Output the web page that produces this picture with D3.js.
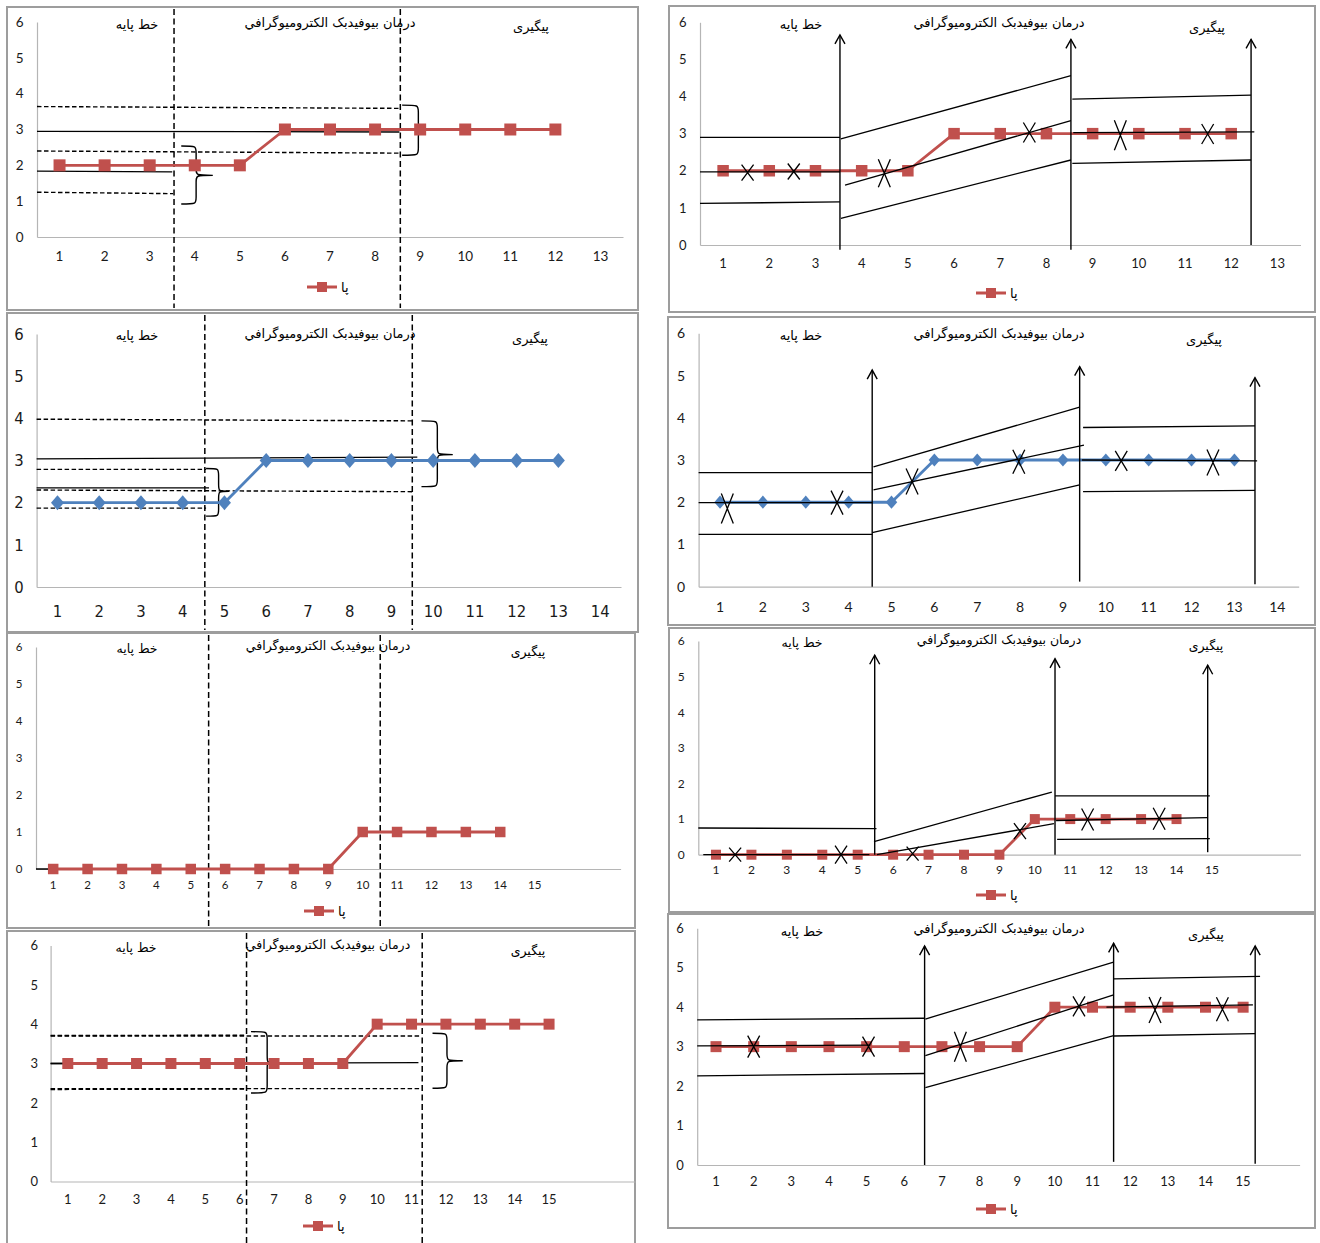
<!DOCTYPE html>
<html><head><meta charset="utf-8">
<script src="https://cdn.jsdelivr.net/npm/d3@7"></script>
<style>
body{margin:0;background:#fff;}
.ar{font-family:'DejaVu Sans',sans-serif;}
</style></head><body>
<svg id="c" width="1320" height="1243"></svg>
<script>
// ---------------- data ----------------
const phaseLabels = ["خط پایه", "درمان بیوفیدبک الکترومیوگرافي", "پیگیری"];
const legendLabel = "پا";
const yTicks = [0, 1, 2, 3, 4, 5, 6];

const p1Ticks = ["1","2","3","4","5","6","7","8","9","10","11","12","13"];
const p2Ticks = ["1","2","3","4","5","6","7","8","9","10","11","12","13","14"];
const p3Ticks = ["1","2","3","4","5","6","7","8","9","10","11","12","13","14","15","",""];
const p4Ticks = ["1","2","3","4","5","6","7","8","9","10","11","12","13","14","15","",""];
const p5Ticks = ["1","2","3","4","5","6","7","8","9","10","11","12","13"];
const p6Ticks = ["1","2","3","4","5","6","7","8","9","10","11","12","13","14"];
const p7Ticks = ["1","2","3","4","5","6","7","8","9","10","11","12","13","14","15","",""];
const p8Ticks = ["1","2","3","4","5","6","7","8","9","10","11","12","13","14","15",""];

const p1Values = [2,2,2,2,2,3,3,3,3,3,3,3];
const p2Values = [2,2,2,2,2,3,3,3,3,3,3,3,3];
const p3Values = [0,0,0,0,0,0,0,0,0,1,1,1,1,1];
const p4Values = [3,3,3,3,3,3,3,3,3,4,4,4,4,4,4];
const p5Values = [2,2,2,2,2,3,3,3,3,3,3,3];
const p6Values = [2,2,2,2,2,3,3,3,3,3,3,3,3];
const p7Values = [0,0,0,0,0,0,0,0,0,1,1,1,1,1];
const p8Values = [3,3,3,3,3,3,3,3,3,4,4,4,4,4,4];

// annotation lines in data units: [cat1, value1, cat2, value2]
const p1Solid  = [[0.5,2.95,8.54,2.93],[0.5,1.84,3.50,1.82]];
const p1Dashed = [[0.5,3.64,8.54,3.59],[0.5,2.40,8.54,2.34],[0.5,1.25,3.52,1.21]];
const p1Phase  = [3.54, 8.56];
// braces: [catLeft, catSpine, catTip, valueTop, valueBottom, valueTip]
const p1Braces = [[3.7,4.03,4.4,2.54,0.92,1.72],[8.6,8.96,9.3,3.68,2.28,2.99]];

const p2Solid  = [[0.5,3.04,9.62,3.08],[0.5,2.35,4.63,2.35]];
const p2Dashed = [[0.5,3.98,9.52,3.94],[0.5,2.79,4.56,2.79],[0.5,2.30,9.55,2.26],[0.5,1.87,4.56,1.87]];
const p2Phase  = [4.53, 9.50];
const p2Braces = [[4.56,4.86,5.11,2.81,1.68,2.27],[9.72,10.1,10.47,3.94,2.38,3.14]];

const p3Solid  = [[0.5,0,9.0,0]];
const p3Phase  = [5.52, 10.51];

const p4Solid  = [[0.5,3.0,11.2,3.02],[0.5,3.0,6.2,3.0]];
const p4Dashed = [[0.5,3.70,11.27,3.70],[0.5,2.36,11.27,2.36],[0.5,3.71,6.2,3.72],[0.5,2.34,6.2,2.35]];
const p4Phase  = [6.2, 11.31];
const p4Braces = [[6.33,6.8,6.95,3.81,2.25,3.03],[11.61,12.03,12.49,3.77,2.37,3.07]];

// arrows: [cat, valueFrom, valueTo]
const p5Arrows = [[3.53,-0.13,5.66],[8.53,-0.13,5.54],[12.43,0.0,5.54]];
const p5Lines  = [[0.5,2.90,3.53,2.90],[0.5,1.97,3.53,1.97],[0.5,1.12,3.53,1.16],
                  [3.55,2.86,8.53,4.56],[3.64,1.61,8.53,3.35],[3.55,0.72,8.53,2.29],
                  [8.56,3.93,12.43,4.04],[8.58,3.03,12.5,3.05],[8.56,2.20,12.43,2.29]];
const p5Crosses = [[1.53,1.95],[2.53,1.98],[4.49,1.93],[7.63,3.03],[9.6,2.96],[11.49,2.99]];

const p6Arrows = [[4.55,0,5.13],[9.39,0.12,5.21],[13.48,0.06,4.95]];
const p6Lines  = [[0.5,2.70,4.55,2.70],[0.5,1.99,4.55,1.99],[0.5,1.24,4.55,1.24],
                  [4.58,2.84,9.39,4.25],[4.58,2.29,9.49,3.35],[4.55,1.28,9.39,2.41],
                  [9.47,3.77,13.48,3.81],[9.44,3.00,13.53,2.98],[9.47,2.25,13.48,2.28]];
const p6Crosses = [[1.17,1.85],[3.73,1.99],[5.48,2.49],[7.97,2.96],[10.36,2.98],[12.5,2.94]];

const p7Arrows = [[5.48,0,5.6],[10.57,0,5.5],[14.88,0.07,5.32]];
const p7Lines  = [[0.5,0.75,5.53,0.73],[0.64,0,5.33,0],
                  [5.46,0.37,10.48,1.76],[5.54,0.0,10.54,0.87],
                  [10.57,1.65,14.94,1.65],[10.6,0.96,14.88,1.04],[10.63,0.43,14.94,0.45]];
const p7Crosses = [[1.54,0],[4.53,0],[6.55,0.03],[9.58,0.66],[11.49,0.99],[13.51,1.01]];

const p8Arrows = [[6.54,0,5.55],[11.56,0.08,5.62],[15.32,0.03,5.55]];
const p8Lines  = [[0.5,3.68,6.54,3.72],[0.5,3.02,5.1,3.04],[0.5,2.26,6.54,2.32],
                  [6.56,3.70,11.56,5.14],[6.56,2.77,11.56,4.31],[6.56,1.96,11.56,3.28],
                  [11.56,4.72,15.45,4.78],[11.37,4.0,15.26,4.06],[11.56,3.27,15.32,3.33]];
const p8Crosses = [[2.0,3.0],[5.05,3.0],[7.49,3.0],[10.64,4.02],[12.66,3.93],[14.45,3.95]];

// ---------------- styles / layout ----------------
const RED = "#c0504d", BLUE = "#4f81bd";
const crossH = {5:[8,8,14,10,15,10], 6:[15,12,13,12,10,13], 7:[7,9,7,8,11,11], 8:[11,10,15,10,13,12]};
const NUM = "Lato,'Liberation Sans',sans-serif";
const NARROW = "'Liberation Sans Narrow','DejaVu Sans Condensed',sans-serif";

const panels = [
 {id:1, values:p1Values, ticks:p1Ticks, frame:[7,7,638,310], xr:[37,623], yr:[237,22], sym:"square", color:RED, ms:12,
  font:NUM, fs:13.5, xPad:14, yPad:13.5, solid:p1Solid, dashed:p1Dashed, phase:p1Phase, braces:p1Braces,
  legend:[322,287], labels:[[137,24],[330,22],[531,26]], lfs:13},
 {id:2, values:p2Values, ticks:p2Ticks, frame:[7,313,638,632], xr:[36.6,621], yr:[587,334], sym:"diamond", color:BLUE, ms:13,
  font:NARROW, fs:16.5, xPad:18, yPad:13, solid:p2Solid, dashed:p2Dashed, phase:p2Phase, braces:p2Braces,
  legend:null, labels:[[137,335],[330,333],[530,338]], lfs:13},
 {id:3, values:p3Values, ticks:p3Ticks, frame:[7,633,635,928], xr:[36,620.6], yr:[869,647], sym:"square", color:RED, ms:10.5,
  font:NUM, fs:11.5, xPad:12, yPad:13.5, solid:p3Solid, dashed:[], phase:p3Phase, braces:[],
  legend:[319,911], labels:[[137,649],[328,646],[528,652]], lfs:12.5},
 {id:4, values:p4Values, ticks:p4Ticks, frame:[7,931,635,1252], xr:[50.6,635], yr:[1181.5,945.5], sym:"square", color:RED, ms:11,
  font:NUM, fs:13, xPad:13, yPad:12.5, solid:p4Solid, dashed:p4Dashed, phase:p4Phase, braces:p4Braces,
  legend:[318,1226], labels:[[136,948],[328,945],[528,951]], lfs:12.5},
 {id:5, values:p5Values, ticks:p5Ticks, frame:[669,6,1315,312], xr:[700,1300.5], yr:[245,22.3], sym:"square", color:RED, ms:11.5,
  font:NUM, fs:13, xPad:13.3, yPad:13.5, lines:p5Lines, arrows:p5Arrows, crosses:p5Crosses,
  legend:[991,293], labels:[[801,24],[999,22],[1207,27]], over:true, lfs:13},
 {id:6, values:p6Values, ticks:p6Ticks, frame:[668,317,1315,625], xr:[698.6,1298.7], yr:[586.7,333.3], sym:"diamond", color:BLUE, ms:11.5,
  font:NUM, fs:14, xPad:15, yPad:13.5, lines:p6Lines, arrows:p6Arrows, crosses:p6Crosses,
  legend:null, labels:[[801,335],[999,333],[1204,339]], over:true, lfs:13},
 {id:7, values:p7Values, ticks:p7Ticks, frame:[669,628,1315,912], xr:[698.3,1300.5], yr:[854.7,641], sym:"square", color:RED, ms:10,
  font:NUM, fs:12, xPad:10.7, yPad:13.5, lines:p7Lines, arrows:p7Arrows, crosses:p7Crosses,
  legend:[991,895], labels:[[802,643],[999,640],[1206,646]], over:true, lfs:12.5},
 {id:8, values:p8Values, ticks:p8Ticks, frame:[668,914,1315,1228], xr:[697.2,1299.6], yr:[1165,928.3], sym:"square", color:RED, ms:11,
  font:NUM, fs:13, xPad:12, yPad:13.5, lines:p8Lines, arrows:p8Arrows, crosses:p8Crosses,
  legend:[991,1209], labels:[[802,931],[999,928],[1206,934]], over:true, lfs:13}
];

const svg = d3.select("#c");
svg.append("rect").attr("width",1320).attr("height",1243).attr("fill","#fff");

function markerPath(sym, s){
  const h = s/2;
  if (sym === "diamond") return `M0,${-h*1.15}L${h},0L0,${h*1.15}L${-h},0Z`;
  return `M${-h},${-h}H${h}V${h}H${-h}Z`;
}

function bracePath(xl, xs, xt, yt, yb, ym){
  const r = Math.min(7, (yb-yt)/5);
  return `M${xl},${yt} C${xs},${yt} ${xs},${yt} ${xs},${yt+r} L${xs},${ym-r} C${xs},${ym} ${xs},${ym} ${xt},${ym}`+
         ` C${xs},${ym} ${xs},${ym} ${xs},${ym+r} L${xs},${yb-r} C${xs},${yb} ${xs},${yb} ${xl},${yb}`;
}

function drawPanel(p){
  const g = svg.append("g");
  const [fx0,fy0,fx1,fy1] = p.frame;
  g.append("rect").attr("x",fx0).attr("y",fy0).attr("width",fx1-fx0).attr("height",fy1-fy0)
    .attr("fill","#fff").attr("stroke","#9d9d9d").attr("stroke-width",2);

  const n = p.ticks.length;
  const cats = p.ticks.map((t,i)=>i+1);
  const xb = d3.scaleBand().domain(cats).range(p.xr);
  const x = d3.scaleLinear().domain([0.5, n+0.5]).range(p.xr);
  const y = d3.scaleLinear().domain([0,6]).range(p.yr);

  const ax = g.append("g").attr("transform",`translate(0,${p.yr[0]})`)
    .call(d3.axisBottom(xb).tickSize(0).tickSizeOuter(0).tickPadding(p.xPad).tickFormat(i=>p.ticks[i-1]));
  const ay = g.append("g").attr("transform",`translate(${p.xr[0]},0)`)
    .call(d3.axisLeft(y).tickValues(yTicks).tickSize(0).tickSizeOuter(0).tickPadding(p.yPad).tickFormat(d3.format("d")));
  [ax,ay].forEach(a=>{
    a.attr("font-family",p.font).attr("font-size",p.fs);
    a.select(".domain").attr("stroke","#b5b5b5").attr("stroke-width",1.2);
    a.selectAll("text").attr("fill","#1a1a1a");
  });

  // phase labels
  p.labels.forEach((c,i)=>{
    g.append("text").attr("class","ar").attr("x",c[0]).attr("y",c[1]).attr("dy","0.35em")
      .attr("text-anchor","middle").attr("font-size",p.lfs).attr("fill","#000").text(phaseLabels[i]);
  });

  const anno = ()=>{
    const L = g.append("g").attr("fill","none").attr("stroke","#000");
    (p.dashed||[]).forEach(d=>L.append("line").attr("x1",x(d[0])).attr("y1",y(d[1])).attr("x2",x(d[2])).attr("y2",y(d[3]))
      .attr("stroke-width",1.4).attr("stroke-dasharray","4.5,2.5"));
    (p.solid||[]).forEach(d=>L.append("line").attr("x1",x(d[0])).attr("y1",y(d[1])).attr("x2",x(d[2])).attr("y2",y(d[3]))
      .attr("stroke-width",1.3));
    (p.lines||[]).forEach(d=>L.append("line").attr("x1",x(d[0])).attr("y1",y(d[1])).attr("x2",x(d[2])).attr("y2",y(d[3]))
      .attr("stroke-width",1.3));
    (p.phase||[]).forEach(v=>L.append("line").attr("x1",x(v)).attr("x2",x(v)).attr("y1",fy0+2).attr("y2",Math.min(fy1-2,1243))
      .attr("stroke-width",1.5).attr("stroke-dasharray","6,3.5"));
    (p.braces||[]).forEach(b=>L.append("path").attr("stroke-width",1.4)
      .attr("d",bracePath(x(b[0]),x(b[1]),x(b[2]),y(b[3]),y(b[4]),y(b[5]))));
    (p.arrows||[]).forEach(a=>{
      const ax0 = x(a[0]), top = y(a[2]);
      L.append("line").attr("x1",ax0).attr("x2",ax0).attr("y1",y(a[1])).attr("y2",top).attr("stroke-width",1.4);
      L.append("path").attr("stroke-width",1.4).attr("d",`M${ax0-5},${top+9}L${ax0},${top}L${ax0+5},${top+9}`);
    });
  };
  const crosses = ()=>{
    const C = g.append("g").attr("stroke","#000").attr("stroke-width",1.3).attr("fill","none");
    (p.crosses||[]).forEach((c,i)=>{
      const cx = x(c[0]), cy = y(c[1]), hh = crossH[p.id][i], hw = 6;
      C.append("path").attr("d",`M${cx-hw},${cy-hh}L${cx+hw},${cy+hh}M${cx+hw},${cy-hh}L${cx-hw},${cy+hh}`);
    });
  };

  if (!p.over) anno();

  // data series
  const cx = i => xb(i+1) + xb.bandwidth()/2;
  g.append("path").datum(p.values).attr("fill","none").attr("stroke",p.color).attr("stroke-width",2.8)
    .attr("stroke-linejoin","round").attr("d",d3.line().x((d,i)=>cx(i)).y(d=>y(d)));
  g.selectAll(null).data(p.values).join("path")
    .attr("transform",(d,i)=>`translate(${cx(i)},${y(d)})`).attr("d",markerPath(p.sym,p.ms)).attr("fill",p.color);

  if (p.over) anno();
  crosses();

  // legend
  if (p.legend){
    const [lx,ly] = p.legend;
    g.append("line").attr("x1",lx-15).attr("x2",lx+15).attr("y1",ly).attr("y2",ly).attr("stroke",p.color).attr("stroke-width",3);
    g.append("path").attr("transform",`translate(${lx},${ly})`).attr("d",markerPath(p.sym,10)).attr("fill",p.color);
    g.append("text").attr("class","ar").attr("x",lx+19).attr("y",ly).attr("dy","0.35em").attr("font-size",13)
      .attr("fill","#000").text(legendLabel);
  }
}

panels.forEach(drawPanel);
</script>
</body></html>
